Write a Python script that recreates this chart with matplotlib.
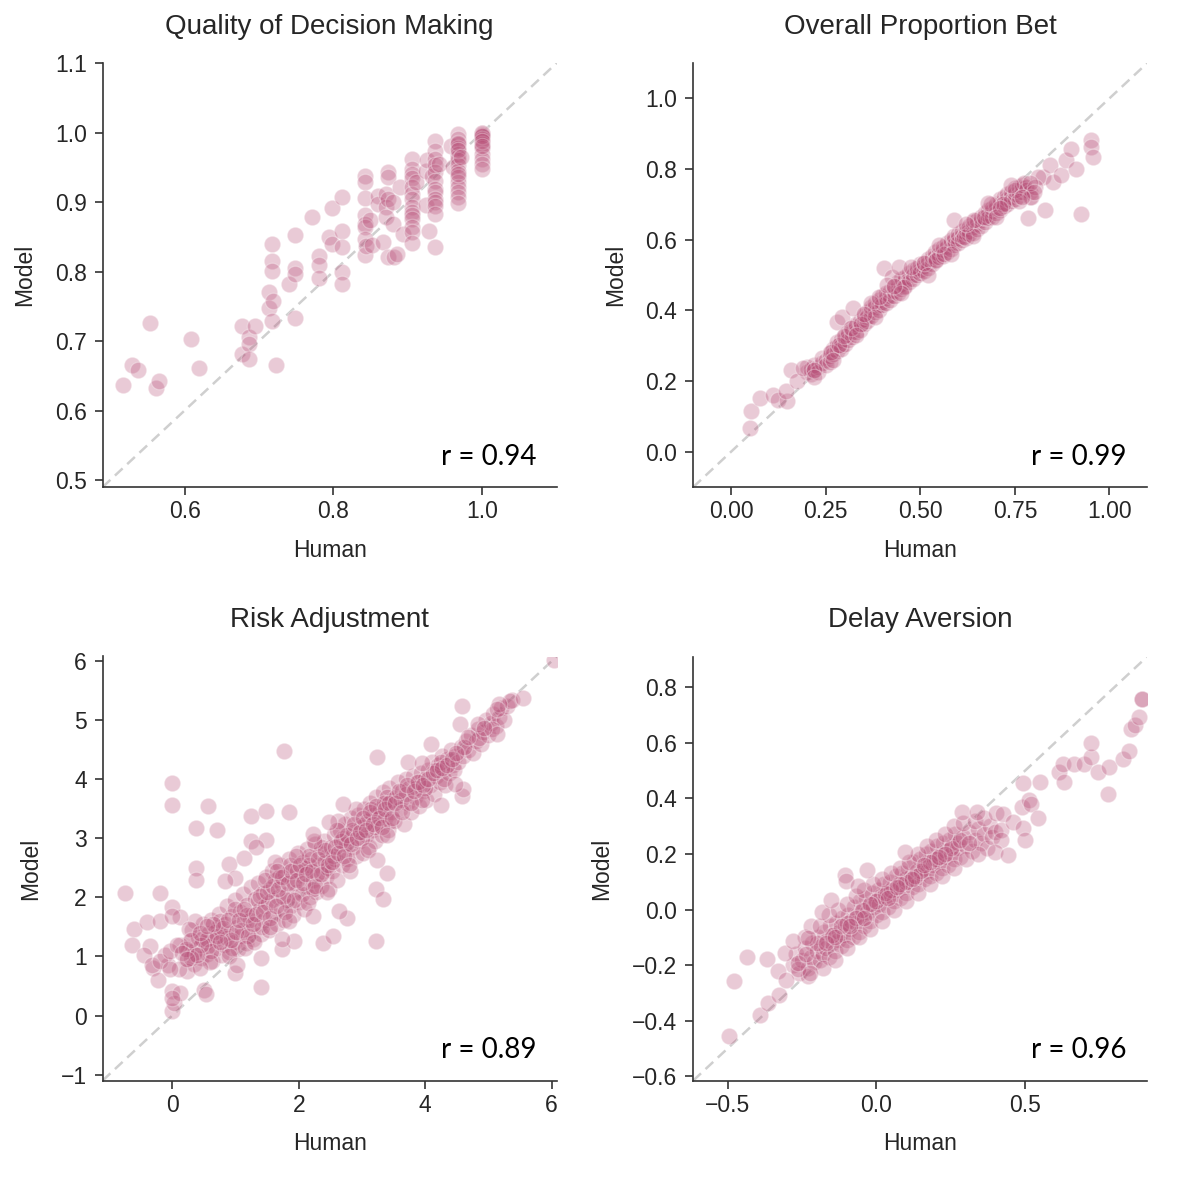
import numpy as np
import matplotlib
matplotlib.use("Agg")
import matplotlib.pyplot as plt

plt.rcParams['font.family'] = ['Liberation Sans', 'DejaVu Sans']

POINT_COLOR = '#b9527a'
TEXT_COLOR = '#262626'

# ---------------- Panel 1: Quality of Decision Making ----------------
qdm_human = [0.517, 0.530, 0.537, 0.554, 0.561, 0.565, 0.608, 0.620, 0.677, 0.687,
             0.694, 0.714, 0.717, 0.718, 0.719, 0.723, 0.740, 0.749, 0.771, 0.780,
             0.794, 0.798, 0.812, 0.842, 0.844, 0.849, 0.852, 0.860, 0.866, 0.871,
             0.870, 0.873, 0.880, 0.882, 0.886, 0.889, 0.894, 0.905, 0.911, 0.924,
             0.926, 0.928, 0.933, 0.937, 0.942, 0.958, 0.960, 0.967, 0.971, 1.000]
qdm_model = [[0.637], [0.665], [0.659], [0.726], [0.632], [0.643], [0.703], [0.661],
             [0.721, 0.682], [0.706, 0.696, 0.674],
             [0.721], [0.770, 0.747], [0.840, 0.815, 0.801], [0.729], [0.758], [0.665],
             [0.782], [0.852, 0.805, 0.797, 0.733], [0.878], [0.822, 0.809, 0.790],
             [0.849], [0.891, 0.840], [0.907, 0.859, 0.835, 0.800, 0.782],
             [0.938, 0.929, 0.906, 0.882, 0.869, 0.864, 0.847, 0.824],
             [0.837], [0.874], [0.838], [0.909, 0.897], [0.842], [0.912, 0.893],
             [0.878], [0.943, 0.936, 0.905, 0.821], [0.869, 0.900], [0.821], [0.825],
             [0.921], [0.854],
             [0.962, 0.948, 0.941, 0.935, 0.921, 0.912, 0.905, 0.893, 0.886, 0.881,
              0.876, 0.864, 0.857, 0.841],
             [0.929], [0.945, 0.895], [0.960], [0.859], [0.938],
             [0.988, 0.974, 0.962, 0.953, 0.943, 0.930, 0.919, 0.914, 0.905, 0.900,
              0.894, 0.883, 0.835],
             [0.955], [0.981], [0.950],
             [0.998, 0.991, 0.984, 0.977, 0.969, 0.965, 0.960, 0.953, 0.945, 0.936,
              0.929, 0.921, 0.914, 0.907, 0.898, 0.985, 0.975, 0.940],
             [0.965],
             [1.000, 1.000, 0.998, 0.996, 0.991, 0.984, 0.977, 0.969, 0.962, 0.955,
              0.948, 0.995, 0.988, 0.980]]

# ---------------- Panel 2: Overall Proportion Bet ----------------
opb_human = [0.20, 0.21, 0.22, 0.23, 0.24, 0.25, 0.26, 0.27, 0.28, 0.29,
             0.30, 0.31, 0.32, 0.33, 0.34, 0.35, 0.36, 0.37, 0.38, 0.39,
             0.40, 0.41, 0.42, 0.43, 0.44, 0.45, 0.46, 0.47, 0.48, 0.49,
             0.50, 0.51, 0.52, 0.53, 0.54, 0.55, 0.56, 0.57, 0.58, 0.59,
             0.60, 0.61, 0.62, 0.63, 0.64, 0.65, 0.66, 0.67, 0.68, 0.69,
             0.70, 0.71, 0.72, 0.73, 0.74, 0.75, 0.76, 0.77, 0.78, 0.79]
opb_model = [[0.225, 0.240], [0.220, 0.235], [0.230, 0.245], [0.240, 0.225], [0.250, 0.265],
             [0.260, 0.245], [0.270, 0.280, 0.255], [0.290, 0.275], [0.300, 0.285, 0.310],
             [0.315, 0.300, 0.290],
             [0.320, 0.305, 0.330], [0.330, 0.315, 0.340], [0.340, 0.325, 0.350],
             [0.355, 0.340, 0.360], [0.360, 0.345, 0.370], [0.375, 0.360, 0.385],
             [0.380, 0.395, 0.370], [0.400, 0.385, 0.410], [0.410, 0.395, 0.420],
             [0.415, 0.430, 0.400],
             [0.425, 0.440, 0.415], [0.435, 0.450, 0.420], [0.440, 0.455, 0.430],
             [0.455, 0.440, 0.465], [0.465, 0.450, 0.480], [0.475, 0.460, 0.490],
             [0.485, 0.470, 0.495], [0.490, 0.505, 0.480], [0.500, 0.515, 0.490],
             [0.510, 0.500, 0.520],
             [0.515, 0.530, 0.505], [0.525, 0.510, 0.535], [0.535, 0.520, 0.545],
             [0.545, 0.530, 0.555], [0.550, 0.565, 0.540], [0.560, 0.575, 0.550],
             [0.570, 0.555, 0.580], [0.580, 0.565, 0.590], [0.590, 0.575, 0.600],
             [0.600, 0.585, 0.610],
             [0.605, 0.590, 0.615], [0.610, 0.625, 0.600], [0.620, 0.605, 0.630],
             [0.625, 0.640, 0.615], [0.635, 0.650, 0.620], [0.645, 0.630, 0.655],
             [0.655, 0.640, 0.665], [0.660, 0.675, 0.650], [0.670, 0.685, 0.660],
             [0.680, 0.665, 0.690],
             [0.690, 0.700, 0.675], [0.700, 0.685, 0.715], [0.705, 0.720, 0.695],
             [0.715, 0.730, 0.700], [0.720, 0.735, 0.710], [0.730, 0.745, 0.715],
             [0.735, 0.750, 0.725], [0.745, 0.735, 0.755], [0.750, 0.740], [0.735, 0.720]]
opb_human_extra = [0.049, 0.053, 0.077, 0.111, 0.123, 0.148, 0.144, 0.157, 0.174, 0.189,
                   0.218, 0.263, 0.285, 0.280, 0.293, 0.322, 0.298, 0.316, 0.342, 0.369,
                   0.391, 0.404, 0.426, 0.444, 0.413, 0.457, 0.475, 0.510, 0.541, 0.563,
                   0.590, 0.616, 0.643, 0.669, 0.687, 0.718, 0.749, 0.775, 0.784, 0.829,
                   0.824, 0.842, 0.851, 0.873, 0.886, 0.899, 0.912, 0.926, 0.952, 0.952,
                   0.956, 0.811, 0.802, 0.793,
                   0.22, 0.27, 0.33, 0.38, 0.45, 0.52, 0.58, 0.64, 0.70, 0.76,
                   0.35, 0.43, 0.55, 0.62, 0.68, 0.74, 0.79, 0.80, 0.77, 0.71]
opb_model_extra = [0.067, 0.116, 0.152, 0.161, 0.147, 0.142, 0.173, 0.232, 0.199, 0.236,
                   0.230, 0.283, 0.302, 0.368, 0.382, 0.406, 0.326, 0.349, 0.361, 0.420,
                   0.439, 0.519, 0.495, 0.524, 0.472, 0.467, 0.524, 0.533, 0.542, 0.560,
                   0.655, 0.608, 0.655, 0.664, 0.702, 0.702, 0.740, 0.759, 0.660, 0.684,
                   0.778, 0.811, 0.763, 0.782, 0.825, 0.858, 0.801, 0.674, 0.881, 0.863,
                   0.833, 0.778, 0.750, 0.722,
                   0.210, 0.260, 0.330, 0.380, 0.450, 0.500, 0.560, 0.610, 0.665, 0.710,
                   0.390, 0.470, 0.585, 0.645, 0.705, 0.755, 0.760, 0.735, 0.720, 0.690]

# ---------------- Panel 3: Risk Adjustment ----------------
ra_human = [0.22, 0.27, 0.31, 0.34, 0.38, 0.41, 0.45, 0.48, 0.52, 0.55,
            0.58, 0.61, 0.63, 0.66, 0.69, 0.72, 0.74, 0.77, 0.79, 0.25,
            0.36, 0.47, 0.57, 0.68, 0.76,
            0.82, 0.84, 0.87, 0.89, 0.92, 0.95, 0.97, 1.00, 1.02, 1.04,
            1.07, 1.09, 1.12, 1.14, 1.16, 1.19, 1.21, 1.24, 1.26, 1.28,
            1.31, 1.33, 1.36, 1.38, 1.40, 1.43, 1.45, 1.48, 0.86, 0.99,
            1.11, 1.23, 1.35, 1.47, 0.94, 1.18, 1.42,
            1.51, 1.53, 1.55, 1.58, 1.60, 1.62, 1.65, 1.67, 1.70, 1.72,
            1.74, 1.77, 1.79, 1.82, 1.84, 1.86, 1.89, 1.91, 1.94, 1.96,
            1.99, 2.01, 2.03, 2.06, 2.08, 2.11, 2.13, 2.15, 2.18, 2.20,
            2.23, 2.25, 2.28, 2.30, 2.33, 2.35, 2.38, 2.40, 2.43, 2.45,
            2.48, 1.57, 1.69, 1.81, 1.93, 2.05, 2.17, 2.29, 2.41, 1.63,
            1.87, 2.10, 2.36, 1.75, 1.98, 2.22, 2.46,
            2.51, 2.53, 2.56, 2.58, 2.61, 2.63, 2.66, 2.68, 2.71, 2.73,
            2.76, 2.78, 2.81, 2.83, 2.86, 2.88, 2.91, 2.93, 2.96, 2.98,
            3.01, 3.03, 3.06, 3.08, 3.11, 3.13, 3.16, 3.18, 3.21, 3.23,
            3.26, 3.28, 3.31, 3.33, 3.36, 3.38, 3.41, 3.43, 3.46, 3.48,
            2.55, 2.70, 2.85, 3.00, 3.15, 3.30, 3.45, 2.62, 2.90, 3.20,
            3.40, 2.75, 3.05, 3.35,
            3.51, 3.54, 3.57, 3.60, 3.63, 3.66, 3.69, 3.72, 3.75, 3.78,
            3.81, 3.84, 3.87, 3.90, 3.93, 3.96, 3.99, 4.02, 4.05, 4.08,
            4.11, 4.14, 4.17, 4.20, 4.23, 4.26, 4.29, 4.32, 4.35, 4.38,
            4.41, 4.44, 4.47, 3.62, 3.85, 4.00, 4.15, 4.30, 4.45, 3.70,
            3.95, 4.25,
            4.52, 4.56, 4.60, 4.64, 4.68, 4.72, 4.76, 4.80, 4.84, 4.88,
            4.92, 4.96, 5.00, 5.04, 5.08, 5.12, 5.16, 5.20, 5.25, 5.30,
            5.38, 4.62, 4.85, 5.05]
ra_model = [0.95, 1.25, 1.45, 0.88, 1.12, 1.33, 0.98, 1.55, 1.22, 1.05,
            1.40, 1.62, 0.92, 1.28, 1.15, 1.50, 1.72, 1.02, 1.35, 1.10,
            1.60, 1.30, 1.18, 1.42, 1.60,
            1.20, 1.55, 1.85, 1.08, 1.40, 1.68, 1.25, 1.95, 1.50, 1.12,
            1.75, 1.35, 2.05, 1.60, 1.22, 1.88, 1.45, 2.18, 1.70, 1.30,
            1.98, 1.55, 2.25, 1.80, 1.38, 2.08, 1.62, 2.35, 1.32, 1.80,
            1.45, 1.62, 1.95, 1.85, 1.15, 1.70, 1.50,
            1.90, 1.45, 2.15, 2.45, 1.70, 2.30, 1.55, 2.00, 2.55, 1.80,
            2.22, 1.62, 2.40, 2.05, 2.65, 1.85, 2.30, 1.70, 2.50, 2.10,
            2.75, 1.92, 2.38, 2.60, 1.80, 2.20, 2.82, 2.45, 2.00, 2.65,
            2.30, 2.90, 2.10, 2.55, 2.75, 2.20, 2.45, 2.95, 2.35, 2.70,
            2.15, 1.95, 2.35, 1.95, 2.25, 2.05, 2.55, 2.40, 2.60, 2.60,
            2.55, 2.50, 2.85, 2.00, 2.45, 2.15, 2.50,
            2.85, 2.45, 3.05, 2.65, 2.30, 2.90, 3.15, 2.55, 2.80, 3.25,
            2.65, 3.00, 2.45, 3.35, 2.85, 3.10, 2.70, 3.40, 2.95, 3.20,
            2.75, 3.50, 3.05, 3.30, 2.85, 3.60, 3.15, 3.40, 2.95, 3.70,
            3.25, 3.50, 3.05, 3.78, 3.35, 3.58, 3.15, 3.85, 3.45, 3.65,
            2.70, 3.00, 3.15, 3.00, 3.50, 3.40, 3.30, 3.30, 3.50, 3.20,
            3.70, 2.90, 3.25, 3.60,
            3.30, 3.70, 3.95, 3.50, 3.80, 3.25, 4.00, 3.60, 3.85, 3.45,
            4.05, 3.70, 3.95, 3.55, 4.10, 3.80, 4.00, 3.65, 4.15, 3.90,
            4.30, 3.75, 4.05, 4.25, 3.95, 4.40, 4.15, 3.90, 4.35, 4.10,
            4.50, 4.25, 4.40, 3.65, 3.85, 3.85, 4.15, 4.00, 4.15, 3.75,
            3.65, 4.30,
            4.30, 4.55, 4.40, 4.65, 4.50, 4.75, 4.45, 4.65, 4.85, 4.60,
            4.80, 5.00, 4.75, 4.95, 5.10, 4.90, 5.05, 5.20, 5.00, 5.25,
            5.35, 4.55, 4.70, 4.85]
ra_human_dense = [0.55, 0.62, 0.70, 0.80, 0.88, 0.93, 1.01, 1.06, 1.13, 1.20,
                  1.27, 1.32, 1.39, 1.44, 1.50, 1.54, 1.59, 1.64, 1.68, 1.73,
                  1.78, 1.83, 1.88, 1.92, 1.97, 2.02, 2.07, 2.12, 2.16, 2.21,
                  2.26, 2.31, 2.36, 2.42, 2.47, 2.52, 2.57, 2.62, 2.67, 2.72,
                  2.77, 2.82, 2.87, 2.92, 2.97, 3.02, 3.07, 3.12, 3.17, 3.22,
                  3.27, 3.32, 3.37, 3.42, 3.47, 3.52, 3.58, 3.64, 3.71, 3.77,
                  3.83, 3.89, 3.97, 4.04, 4.12, 4.19, 4.27, 4.34, 4.42, 4.49,
                  1.46, 1.66, 1.95, 2.24, 2.60, 1.55, 1.85, 2.14, 2.44, 2.80,
                  3.10, 3.40, 0.65, 0.90, 1.15, 1.30, 0.45, 0.35, 0.60, 0.75]
ra_model_dense = [1.30, 1.10, 1.35, 1.48, 1.62, 1.28, 1.42, 1.62, 1.80, 1.35,
                  1.55, 1.72, 2.02, 1.75, 2.10, 1.65, 2.20, 1.85, 2.15, 2.35,
                  1.75, 2.25, 2.45, 1.95, 2.30, 2.55, 2.25, 2.40, 2.70, 2.45,
                  2.20, 2.65, 2.40, 2.80, 2.55, 2.60, 2.85, 2.75, 2.95, 2.70,
                  3.05, 2.90, 3.25, 3.00, 3.10, 3.35, 3.15, 3.45, 3.25, 3.55,
                  3.35, 3.20, 3.50, 3.60, 3.35, 3.60, 3.80, 3.45, 3.90, 3.60,
                  3.80, 3.95, 3.90, 4.00, 4.10, 4.15, 4.20, 4.25, 4.35, 4.45,
                  2.30, 2.45, 2.70, 2.95, 3.15, 1.50, 1.60, 1.90, 2.10, 2.55,
                  2.80, 3.05, 1.55, 1.00, 1.15, 1.25, 1.20, 1.05, 0.90, 1.25]
ra_human_extra = [-0.75, -0.20, 0.00, 0.00, 0.56, 0.38, 0.71, 0.38, 0.38, 1.25,
                  1.49, 1.76, 1.84, 1.24, 1.49, 1.33, 0.89, 1.13, 1.00, 0.84,
                  -0.61, -0.63, -0.40, -0.20, -0.35, -0.31, -0.22, 0.00, 0.00, 0.03,
                  0.13, 0.50, 0.54, 0.00, 0.13, 0.26, 0.23, -0.06, -0.11, 0.13,
                  0.29, 0.44, 1.00, 1.03, 1.40, 1.40, 1.74, 1.92, 1.74, 2.39,
                  2.55, 3.22, 3.22, 3.34, 3.39, 3.24, 2.77, 2.63, 2.22, 3.24,
                  2.70, 2.48, 2.22, 3.73, 3.95, 4.09, 4.58, 4.55, 4.59, 4.60,
                  4.25, 4.47, 4.83, 5.13, 5.34, 5.54, 5.16, 5.13, 4.93, 4.68,
                  6.03, -0.45, -0.32, -0.19, -0.03, 0.08, 0.21, 0.29, 0.44, 0.55,
                  0.16, 0.39, 0.00, 0.10, -0.03, 0.23, 0.00]
ra_model_extra = [2.08, 2.07, 3.93, 3.57, 3.55, 3.17, 3.14, 2.49, 2.29, 3.38,
                  3.47, 4.48, 3.44, 2.96, 2.97, 2.85, 2.56, 2.67, 2.33, 2.28,
                  1.47, 1.20, 1.58, 1.60, 1.18, 0.81, 0.61, 0.41, 0.07, 0.21,
                  0.39, 0.43, 0.36, 1.83, 1.67, 1.47, 0.75, 0.86, 1.03, 1.20,
                  0.97, 0.80, 0.72, 0.86, 0.49, 0.98, 1.12, 1.27, 1.29, 1.22,
                  1.35, 1.26, 2.14, 1.98, 2.41, 2.64, 1.66, 1.77, 1.68, 4.38,
                  3.59, 3.28, 3.08, 4.29, 4.28, 4.59, 5.25, 4.93, 3.72, 3.84,
                  3.57, 3.92, 4.93, 4.76, 5.33, 5.38, 5.28, 5.19, 4.87, 4.71,
                  6.02, 1.03, 0.86, 0.92, 1.09, 1.20, 1.12, 1.28, 1.40, 1.51,
                  1.06, 1.03, 0.30, 0.78, 0.78, 0.95, 1.68]

# ---------------- Panel 4: Delay Aversion ----------------
da_human = [-0.280, -0.270, -0.260, -0.250, -0.240, -0.230, -0.220, -0.215, -0.210, -0.200,
            -0.195, -0.190, -0.185, -0.180, -0.175, -0.170, -0.165, -0.160, -0.155, -0.150,
            -0.145, -0.140, -0.135, -0.130, -0.125, -0.120, -0.115, -0.110, -0.105, -0.100,
            -0.095, -0.090, -0.085, -0.080, -0.075, -0.070, -0.065, -0.060, -0.055, -0.050,
            -0.045, -0.040, -0.035, -0.030, -0.025, -0.020, -0.015, -0.010, -0.005, 0.000,
            0.005, 0.010, 0.015, 0.020, 0.025, 0.030, 0.035, 0.040, 0.045, 0.050,
            0.055, 0.060, 0.065, 0.070, 0.075, 0.080, 0.085, 0.090, 0.095, 0.100,
            0.105, 0.110, 0.115, 0.120, 0.125, 0.130, 0.135, 0.140, 0.145, 0.150,
            0.155, 0.160, 0.165, 0.170, 0.175, 0.180, 0.185, 0.190, 0.195, 0.200,
            0.205, 0.210, 0.215, 0.220, 0.225, 0.230, 0.235, 0.240, 0.245, 0.250,
            0.255, 0.260, 0.265, 0.270, 0.275, 0.280, 0.290, 0.300, 0.310, 0.320,
            0.330, 0.340, 0.350, 0.360, 0.370, 0.380, 0.390, 0.400,
            -0.200, -0.150, -0.100, -0.050, 0.000, 0.050, 0.100, 0.150, 0.200, 0.250,
            -0.120, -0.020, 0.080, 0.180, 0.280, -0.170, -0.070, 0.030, 0.130, 0.230,
            -0.24, -0.22, -0.19, -0.16, -0.13, -0.10, -0.07, -0.04, -0.01, 0.02,
            0.05, 0.08, 0.11, 0.14, 0.17, 0.20, 0.23, 0.26, 0.29, -0.23,
            -0.18, -0.14, -0.10, -0.06, -0.02, 0.02, 0.06, 0.10, 0.14, 0.18,
            0.22, 0.26, 0.30, 0.34, 0.33, 0.36, 0.31, 0.12, 0.04, -0.04,
            -0.14, 0.21, 0.16, 0.07, -0.09]
da_model = [-0.20, -0.16, -0.23, -0.18, -0.14, -0.21, -0.17, -0.12, -0.19, -0.15,
            -0.10, -0.18, -0.13, -0.16, -0.08, -0.14, -0.11, -0.17, -0.06, -0.12,
            -0.09, -0.15, -0.05, -0.11, -0.08, -0.13, -0.03, -0.09, -0.06, -0.11,
            -0.02, -0.07, -0.04, -0.10, 0.01, -0.05, -0.02, -0.08, 0.03, -0.03,
            0.00, -0.06, 0.04, -0.01, 0.02, -0.04, 0.06, 0.01, 0.03, -0.02,
            0.07, 0.02, 0.05, -0.01, 0.09, 0.04, 0.06, 0.01, 0.10, 0.05,
            0.08, 0.03, 0.12, 0.07, 0.09, 0.04, 0.13, 0.08, 0.11, 0.06,
            0.15, 0.10, 0.12, 0.08, 0.17, 0.11, 0.14, 0.09, 0.18, 0.13,
            0.15, 0.11, 0.20, 0.14, 0.17, 0.12, 0.21, 0.16, 0.18, 0.13,
            0.23, 0.17, 0.20, 0.15, 0.24, 0.19, 0.21, 0.16, 0.25, 0.20,
            0.23, 0.18, 0.27, 0.22, 0.24, 0.19, 0.26, 0.23, 0.28, 0.21,
            0.25, 0.29, 0.24, 0.27, 0.22, 0.30, 0.26, 0.28,
            -0.12, -0.09, -0.05, 0.00, 0.03, 0.07, 0.10, 0.14, 0.18, 0.22,
            -0.06, 0.02, 0.09, 0.17, 0.25, -0.12, -0.03, 0.06, 0.12, 0.20,
            -0.10, -0.06, -0.06, -0.02, 0.00, 0.02, 0.05, 0.07, 0.09, 0.11,
            0.13, 0.15, 0.17, 0.20, 0.23, 0.25, 0.27, 0.30, 0.31, -0.24,
            -0.21, -0.18, -0.14, -0.10, -0.07, -0.04, 0.00, 0.03, 0.06, 0.09,
            0.12, 0.15, 0.18, 0.20, 0.32, 0.33, 0.24, 0.11, 0.04, -0.03,
            -0.10, 0.19, 0.16, 0.08, -0.06]
da_human_extra = [-0.495, -0.477, -0.436, -0.391, -0.365, -0.369, -0.327, -0.330, -0.307, -0.302,
                  -0.279, -0.262, -0.264, -0.235, -0.229, -0.222, -0.182, -0.153, -0.104, -0.101,
                  -0.061, -0.030, 0.095, 0.287, 0.339, 0.402, 0.424, 0.419, 0.419, 0.397,
                  0.441, 0.458, 0.494, 0.500, 0.488, 0.514, 0.520, 0.542, 0.494, 0.548,
                  0.615, 0.630, 0.628, 0.663, 0.698, 0.721, 0.721, 0.745, 0.777, 0.783,
                  0.827, 0.847, 0.856, 0.870, 0.883, 0.891, 0.891]
da_model_extra = [-0.456, -0.257, -0.170, -0.379, -0.335, -0.177, -0.307, -0.221, -0.158, -0.253,
                  -0.113, -0.215, -0.191, -0.159, -0.103, -0.228, -0.008, 0.033, 0.123, 0.102,
                  0.083, 0.141, 0.207, 0.350, 0.350, 0.347, 0.345, 0.286, 0.250, 0.206,
                  0.197, 0.316, 0.292, 0.250, 0.370, 0.393, 0.381, 0.328, 0.455, 0.457,
                  0.493, 0.457, 0.523, 0.523, 0.523, 0.547, 0.599, 0.496, 0.416, 0.511,
                  0.541, 0.571, 0.649, 0.663, 0.691, 0.756, 0.756]

panel_titles = ["Quality of Decision Making", "Overall Proportion Bet",
                "Risk Adjustment", "Delay Aversion"]
panel_r = ["r = 0.94", "r = 0.99", "r = 0.89", "r = 0.96"]
panel_lims = [(0.49, 1.10), (-0.10, 1.10), (-1.10, 6.08), (-0.615, 0.91)]
panel_xticks = [[0.6, 0.8, 1.0], [0.0, 0.25, 0.5, 0.75, 1.0], [0, 2, 4, 6], [-0.5, 0.0, 0.5]]
panel_yticks = [[0.5, 0.6, 0.7, 0.8, 0.9, 1.0, 1.1], [0.0, 0.2, 0.4, 0.6, 0.8, 1.0],
                [-1, 0, 1, 2, 3, 4, 5, 6], [-0.6, -0.4, -0.2, 0.0, 0.2, 0.4, 0.6, 0.8]]


def expand(cols, vals):
    xs, ys = [], []
    for h, ms in zip(cols, vals):
        for m in ms:
            xs.append(h)
            ys.append(m)
    return xs, ys


x1, y1 = expand(qdm_human, qdm_model)
x2, y2 = expand(opb_human, opb_model)
x2 += opb_human_extra
y2 += opb_model_extra
x3 = list(ra_human) + ra_human_dense + ra_human_extra
y3 = list(ra_model) + ra_model_dense + ra_model_extra
x4 = list(da_human) + da_human_extra
y4 = list(da_model) + da_model_extra
panel_data = [(x1, y1), (x2, y2), (x3, y3), (x4, y4)]

fig = plt.figure(figsize=(12, 11.9), dpi=100)
W, H = 1200, 1190
ax_w, ax_h = 454, 424
lefts = [102.7, 693.3, 102.7, 693.3]
tops = [63, 63, 656.5, 656.5]

for i in range(4):
    l, t = lefts[i], tops[i]
    ax = fig.add_axes([l / W, (H - t - ax_h) / H, ax_w / W, ax_h / H])
    xs, ys = panel_data[i]
    ax.plot([0, 1], [0, 1], transform=ax.transAxes, ls='--', color='#cfcfcf',
            lw=1.8, dashes=(4.2, 2.5), zorder=1)
    ax.scatter(xs, ys, s=140, color=POINT_COLOR, alpha=0.3, edgecolors='white',
               linewidths=0.9, zorder=2)
    ax.set_xlim(*panel_lims[i])
    ax.set_ylim(*panel_lims[i])
    ax.set_xticks(panel_xticks[i])
    ax.set_yticks(panel_yticks[i])
    for s in ['top', 'right']:
        ax.spines[s].set_visible(False)
    for s in ['left', 'bottom']:
        ax.spines[s].set_color('#333333')
        ax.spines[s].set_linewidth(1.2)
    ax.tick_params(axis='both', direction='out', length=6, width=1.2, color='#333333',
                   labelsize=16.5, labelcolor=TEXT_COLOR)
    ax.tick_params(axis='x', pad=3.6)
    ax.tick_params(axis='y', pad=5.5)
    ax.set_xlabel("Human", fontsize=16.5, color=TEXT_COLOR, labelpad=11)
    ax.set_ylabel("Model", fontsize=16.5, color=TEXT_COLOR, labelpad=13.5)
    ax.set_title(panel_titles[i], fontsize=20, color=TEXT_COLOR, pad=21)
    ax.text(0.955, 0.052, panel_r[i], transform=ax.transAxes, ha='right', va='baseline',
            fontsize=20, family=['Lato', 'DejaVu Sans'], color='black')

fig.savefig("out.png", dpi=100)
